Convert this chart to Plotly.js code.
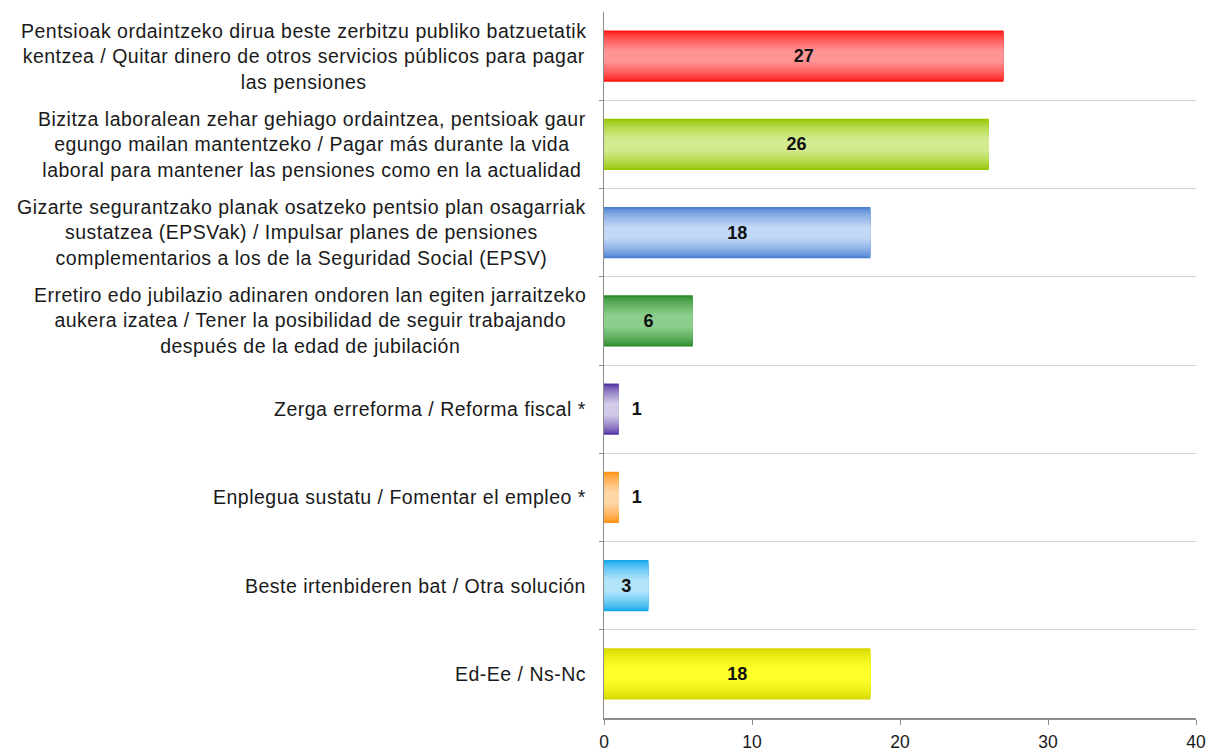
<!DOCTYPE html>
<html>
<head>
<meta charset="utf-8">
<script src="https://cdn.plot.ly/plotly-3.0.1.min.js"></script>
<style>
html,body{margin:0;padding:0;background:#fff;}
#chart{width:1219px;height:753px;}
.annotation-text{letter-spacing:0.5px;}
</style>
</head>
<body>
<div id="chart"></div>
<script>
const categories = [
  "Pentsioak ordaintzeko dirua beste zerbitzu publiko batzuetatik<br>kentzea / Quitar dinero de otros servicios públicos para pagar<br>las pensiones",
  "Bizitza laboralean zehar gehiago ordaintzea, pentsioak gaur<br>egungo mailan mantentzeko / Pagar más durante la vida<br>laboral para mantener las pensiones como en la actualidad",
  "Gizarte segurantzako planak osatzeko pentsio plan osagarriak<br>sustatzea (EPSVak) / Impulsar planes de pensiones<br>complementarios a los de la Seguridad Social (EPSV)",
  "Erretiro edo jubilazio adinaren ondoren lan egiten jarraitzeko<br>aukera izatea / Tener la posibilidad de seguir trabajando<br>después de la edad de jubilación",
  "Zerga erreforma / Reforma fiscal *",
  "Enplegua sustatu / Fomentar el empleo *",
  "Beste irtenbideren bat / Otra solución",
  "Ed-Ee / Ns-Nc"
];
const values = [27, 26, 18, 6, 1, 1, 3, 18];
const edgeColors   = ["#ff1414", "#94c600", "#4a7fd0", "#2a8a2a", "#5232a2", "#ff9212", "#12a8ec", "#d6d600"];
const centerColors = ["#ff9494", "#d2eb8e", "#c2d8f6", "#8ccf8c", "#d2cae8", "#ffd6a6", "#b2e4fa", "#ffff2a"];
const textPositions = ["inside", "inside", "inside", "inside", "outside", "outside", "inside", "inside"];

function hexToRgb(h) { return [1, 3, 5].map(i => parseInt(h.substr(i, 2), 16)); }
function mix(a, b, t) {
  const A = hexToRgb(a), B = hexToRgb(b);
  return "rgb(" + A.map((v, i) => Math.round(v + (B[i] - v) * t)).join(",") + ")";
}

const ids = categories.map((c, i) => i);
const nLayers = 12;
const layerWidths = Array.from({length: nLayers}, (_, k) => 0.58 - k * (0.58 - 0.14) / (nLayers - 1));

const traces = layerWidths.map((w, k) => ({
  type: "bar", orientation: "h", y: ids, x: values, width: w,
  marker: {color: edgeColors.map((c, i) => mix(c, centerColors[i], Math.pow(k / (nLayers - 1), 0.7))), line: {width: 0}},
  hoverinfo: "skip", showlegend: false
}));

traces.push({
  type: "bar", orientation: "h", y: ids, x: values, width: 0.58,
  marker: {color: "rgba(0,0,0,0)", line: {width: 0}},
  text: values.map((v, i) => (textPositions[i] === "outside" ? "\u00a0\u00a0" : "") + String(v)),
  textposition: textPositions, insidetextanchor: "middle", textangle: 0,
  constraintext: "none", cliponaxis: false,
  textfont: {family: "Liberation Sans, Arial, sans-serif", size: 18, color: "#111111", weight: "bold"},
  hoverinfo: "skip", showlegend: false
});

const annotations = categories.map((c, i) => ({
  xref: "paper", yref: "y", x: -0.027, y: i, xanchor: "right", yanchor: "middle",
  text: c, align: "center", showarrow: false,
  font: {family: "Liberation Sans, Arial, sans-serif", size: 19.5, color: "#1a1a1a"}
}));

const layout = {
  width: 1219, height: 753,
  margin: {l: 604, r: 23, t: 12, b: 35},
  paper_bgcolor: "#ffffff", plot_bgcolor: "#ffffff",
  barmode: "overlay",
  font: {family: "Liberation Sans, Arial, sans-serif", color: "#1a1a1a"},
  xaxis: {
    range: [0, 40], dtick: 10, tick0: 0, showgrid: false, zeroline: false,
    showline: true, linecolor: "#8c8c8c", linewidth: 1.5,
    ticks: "outside", ticklen: 5, tickcolor: "#8c8c8c", ticklabelstandoff: 2,
    tickfont: {size: 17.5, color: "#1a1a1a"}
  },
  yaxis: {
    type: "linear", range: [7.5, -0.5], tickmode: "array",
    tickvals: [0.5, 1.5, 2.5, 3.5, 4.5, 5.5, 6.5], ticktext: ["", "", "", "", "", "", ""],
    showgrid: true, gridcolor: "#d4d4d4", gridwidth: 1, zeroline: false,
    showline: true, linecolor: "#8c8c8c", linewidth: 1.5,
    ticks: "outside", ticklen: 4, tickcolor: "#8c8c8c"
  },
  annotations: annotations
};

Plotly.newPlot("chart", traces, layout, {staticPlot: true, displayModeBar: false});
</script>
</body>
</html>
